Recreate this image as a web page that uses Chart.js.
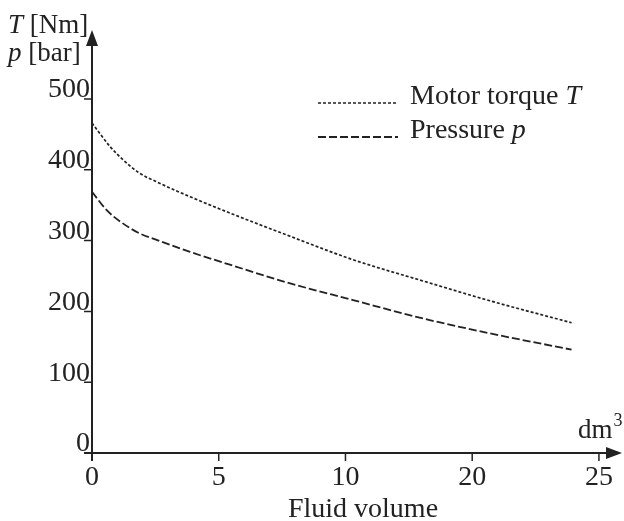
<!DOCTYPE html>
<html>
<head>
<meta charset="utf-8">
<script src="https://cdn.jsdelivr.net/npm/chart.js@4/dist/chart.umd.min.js"></script>
<style>
html,body{margin:0;padding:0;background:#fff;}
canvas{display:block;}
</style>
</head>
<body>
<canvas id="c" width="624" height="521"></canvas>
<script>
// Tick positions along the x axis and the labels printed at them (as in the original figure)
const xTickPositions = [0, 5, 10, 15, 20];
const xTickLabels = ['0', '5', '10', '20', '25'];
const yTicks = [0, 100, 200, 300, 400, 500];

// Motor torque T [Nm]
const volumeT = [0, 0.71, 1.23, 1.89, 2.55, 3.87, 5.44, 7.68, 10.30, 13.06, 15.70, 18.92];
const torque  = [466, 433, 414, 395, 383, 362, 339, 308, 273, 243, 215, 184];

// Pressure p [bar]
const volumeP  = [0, 0.58, 1.23, 1.89, 2.55, 3.87, 5.44, 7.68, 10.30, 13.06, 15.70, 18.92];
const pressure = [369, 343, 324, 310, 301, 284, 266, 241, 216, 190, 169, 146];

const seriesNames = ['Motor torque ', 'Pressure '];
const seriesSymbols = ['T', 'p'];

const INK = '#222';
const FONT = 'Liberation Serif';
const FS = 28;

const toXY = (xs, ys) => xs.map((x, i) => ({x: x, y: ys[i]}));

const decor = {
  id: 'decor',
  afterDraw(chart) {
    const ctx = chart.ctx;
    const xs = chart.scales.x, ys = chart.scales.y;
    const x0 = xs.getPixelForValue(0), y0 = ys.getPixelForValue(0);
    const top = chart.chartArea.top, right = chart.chartArea.right;
    ctx.save();
    ctx.strokeStyle = INK; ctx.fillStyle = INK; ctx.lineWidth = 2;
    // axes
    ctx.beginPath();
    ctx.moveTo(x0, y0 + 8); ctx.lineTo(x0, top + 10);
    ctx.moveTo(x0 - 8, y0); ctx.lineTo(right - 10, y0);
    ctx.stroke();
    // arrows
    ctx.beginPath();
    ctx.moveTo(x0, top); ctx.lineTo(x0 - 6, top + 16); ctx.lineTo(x0 + 6, top + 16); ctx.closePath(); ctx.fill();
    ctx.beginPath();
    ctx.moveTo(right, y0); ctx.lineTo(right - 16, y0 - 6); ctx.lineTo(right - 16, y0 + 6); ctx.closePath(); ctx.fill();
    // tick marks
    ctx.lineWidth = 1.5;
    ctx.beginPath();
    yTicks.forEach(v => { if (v === 0) return; const p = ys.getPixelForValue(v); ctx.moveTo(x0 - 8, p); ctx.lineTo(x0, p); });
    xTickPositions.forEach(v => { const p = xs.getPixelForValue(v); ctx.moveTo(p, y0); ctx.lineTo(p, y0 + 8); });
    ctx.stroke();

    // texts
    ctx.textBaseline = 'alphabetic';
    ctx.textAlign = 'left';
    const mixed = (parts, x, y, size) => {
      parts.forEach(([t, it]) => {
        ctx.font = (it ? 'italic ' : '') + (size || FS) + 'px "' + FONT + '"';
        ctx.fillText(t, x, y);
        x += ctx.measureText(t).width;
      });
      return x;
    };
    mixed([['T', true], [' [Nm]', false]], 8, 33, 27);
    mixed([['p', true], [' [bar]', false]], 8, 61, 27);
    let ex = mixed([['dm', false]], 578, 438, 27);
    ctx.font = '18px "' + FONT + '"';
    ctx.fillText('3', ex + 1, 426);
    ctx.font = FS + 'px "' + FONT + '"';
    ctx.textAlign = 'center';
    ctx.fillText('Fluid volume', 363, 517);
    ctx.textAlign = 'left';

    // legend
    const ly = [103, 137];
    chart.data.datasets.forEach((ds, i) => {
      ctx.save();
      ctx.strokeStyle = ds.borderColor; ctx.lineWidth = ds.borderWidth;
      ctx.setLineDash(ds.borderDash);
      ctx.beginPath(); ctx.moveTo(318, ly[i]); ctx.lineTo(398, ly[i]); ctx.stroke();
      ctx.restore();
      mixed([[seriesNames[i], false], [seriesSymbols[i], true]], 410, ly[i] + 1);
    });
    ctx.restore();
  }
};

new Chart(document.getElementById('c'), {
  type: 'line',
  data: {
    datasets: [
      {label: 'Motor torque T', data: toXY(volumeT, torque), borderColor: INK, borderWidth: 1.7,
       borderDash: [3, 2], pointRadius: 0, cubicInterpolationMode: 'monotone', fill: false},
      {label: 'Pressure p', data: toXY(volumeP, pressure), borderColor: INK, borderWidth: 1.8,
       borderDash: [8, 3], pointRadius: 0, cubicInterpolationMode: 'monotone', fill: false}
    ]
  },
  options: {
    responsive: false,
    animation: false,
    devicePixelRatio: 1,
    layout: {padding: {top: 30, right: 2, left: 0, bottom: 0}},
    plugins: {legend: {display: false}, tooltip: {enabled: false}},
    scales: {
      x: {
        type: 'linear', min: 0, max: 20.91,
        afterBuildTicks: s => { s.ticks = xTickPositions.map(v => ({value: v})); },
        afterFit: s => { s.height = 68; },
        grid: {display: false, drawTicks: false}, border: {display: false},
        ticks: {
          autoSkip: false, maxRotation: 0, padding: 8, color: INK,
          font: {family: FONT, size: FS},
          callback: v => xTickLabels[xTickPositions.indexOf(v)]
        }
      },
      y: {
        type: 'linear', min: 0, max: 597.5,
        afterBuildTicks: s => { s.ticks = yTicks.map(v => ({value: v})); },
        afterFit: s => { s.width = 92; },
        grid: {display: false, drawTicks: false}, border: {display: false},
        ticks: {
          padding: 2, labelOffset: -9, color: INK,
          font: {family: FONT, size: FS},
          callback: v => String(v)
        }
      }
    }
  },
  plugins: [decor]
});
</script>
</body>
</html>
